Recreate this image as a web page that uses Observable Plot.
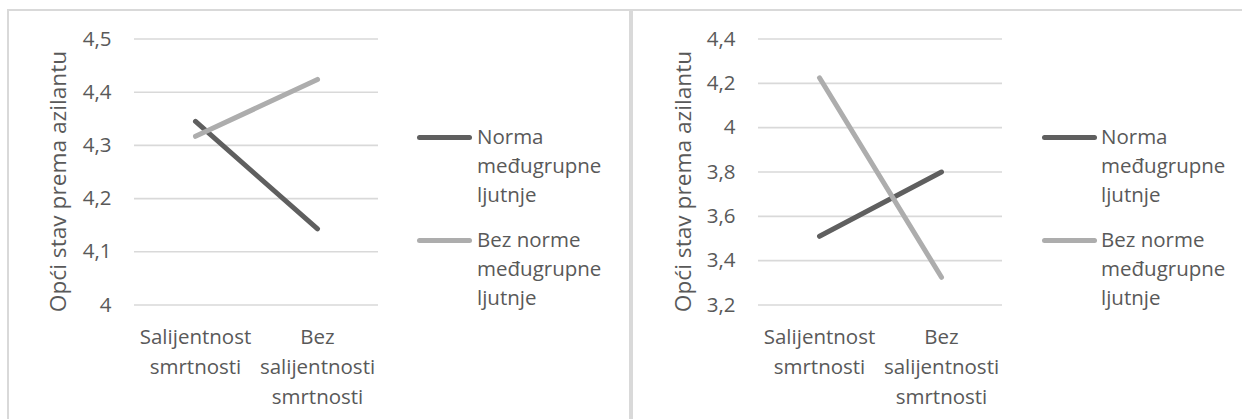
<!DOCTYPE html>
<html><head><meta charset="utf-8">
<script src="https://cdn.jsdelivr.net/npm/d3@7"></script>
<script src="https://cdn.jsdelivr.net/npm/@observablehq/plot@0.6"></script>
<style>
body{margin:0;background:#fff;}
#page{position:relative;width:1242px;height:419px;overflow:hidden;font-family:"Open Sans",sans-serif;color:#595959;background:#fff;}
.border{position:absolute;background:#d9d9d9;}
.plot{position:absolute;left:0;top:0;}
.leg{position:absolute;font-size:20.5px;line-height:29px;color:#595959;white-space:nowrap;}
.legline{position:absolute;height:5px;border-radius:2.5px;}
</style>
</head><body>
<div id="page"></div>
<script>
const categories = ["Salijentnost smrtnosti", "Bez salijentnosti smrtnosti"];
const categoryLabels = ["Salijentnost\nsmrtnosti", "Bez\nsalijentnosti\nsmrtnosti"];
const seriesNames = ["Norma međugrupne ljutnje", "Bez norme međugrupne ljutnje"];
const legendLabels = ["Norma<br>međugrupne<br>ljutnje", "Bez norme<br>međugrupne<br>ljutnje"];
const seriesColors = ["#5f5f5f", "#adadad"];
const leftNorma = [4.345, 4.143];
const leftBez = [4.317, 4.424];
const rightNorma = [3.51, 3.80];
const rightBez = [4.225, 3.325];
const leftTicks = [4, 4.1, 4.2, 4.3, 4.4, 4.5];
const rightTicks = [3.2, 3.4, 3.6, 3.8, 4, 4.2, 4.4];
const yTitle = "Opći stav prema azilantu";

const W = 1242, H = 419;
const fmt = d => String(+(+d).toFixed(1)).replace(".", ",");

function panel(norma, bez, ticks, x0, x1, titleX) {
  const rows = [];
  categories.forEach((c, i) => {
    rows.push({cat: c, series: seriesNames[0], value: norma[i]});
  });
  categories.forEach((c, i) => {
    rows.push({cat: c, series: seriesNames[1], value: bez[i]});
  });
  const top = 38.5, bottom = 304.5;
  return Plot.plot({
    width: W, height: H,
    marginLeft: x0, marginRight: W - x1, marginTop: top, marginBottom: H - bottom,
    style: {fontFamily: "'Open Sans', sans-serif", fontSize: "20.5px", color: "#595959", background: "transparent", overflow: "visible"},
    x: {type: "point", domain: categories, padding: 0.5},
    y: {domain: [ticks[0], ticks[ticks.length - 1]]},
    color: {domain: seriesNames, range: seriesColors},
    marks: [
      Plot.ruleY(ticks, {stroke: "#d9d9d9", strokeWidth: 1.6}),
      Plot.axisY(ticks, {tickSize: 0, tickPadding: 23, tickFormat: fmt, label: null, fill: "#595959", fontSize: 20.5}),
      Plot.axisX({tickSize: 0, tickPadding: 18, tickFormat: d => categoryLabels[categories.indexOf(d)], label: null, lineHeight: 1.46, fill: "#595959", fontSize: 20.5}),
      Plot.line(rows, {x: "cat", y: "value", z: "series", stroke: "series", strokeWidth: 5, strokeLinecap: "round"}),
      Plot.text([yTitle], {frameAnchor: "left", textAnchor: "middle", lineAnchor: "middle", rotate: -90, dx: titleX - x0, dy: 9.5, fontSize: 22.7, fill: "#595959"})
    ]
  });
}

const page = document.getElementById("page");
function addDiv(cls, style, html) {
  const d = document.createElement("div");
  d.className = cls;
  Object.assign(d.style, style);
  if (html) d.innerHTML = html;
  page.appendChild(d);
  return d;
}
// panel borders
addDiv("border", {left: "7px", top: "9px", width: (W - 7) + "px", height: "2px"});
addDiv("border", {left: "7px", top: "9px", width: "2px", height: (H - 9) + "px"});
addDiv("border", {left: "629px", top: "9px", width: "4px", height: (H - 9) + "px"});

const p1 = panel(leftNorma, leftBez, leftTicks, 134, 378, 58);
p1.classList.add("plot");
page.appendChild(p1);
const p2 = panel(rightNorma, rightBez, rightTicks, 758, 1002, 683);
p2.classList.add("plot");
page.appendChild(p2);

function legend(lx0, lx1, tx) {
  const tops = [122, 225];
  seriesNames.forEach((s, i) => {
    addDiv("legline", {left: lx0 + "px", top: (tops[i] + 15 - 2.5) + "px", width: (lx1 - lx0) + "px", background: seriesColors[i]});
    addDiv("leg", {left: tx + "px", top: tops[i] + "px"}, legendLabels[i]);
  });
}
legend(417, 472, 477);
legend(1042, 1097, 1101);
</script>
</body></html>
